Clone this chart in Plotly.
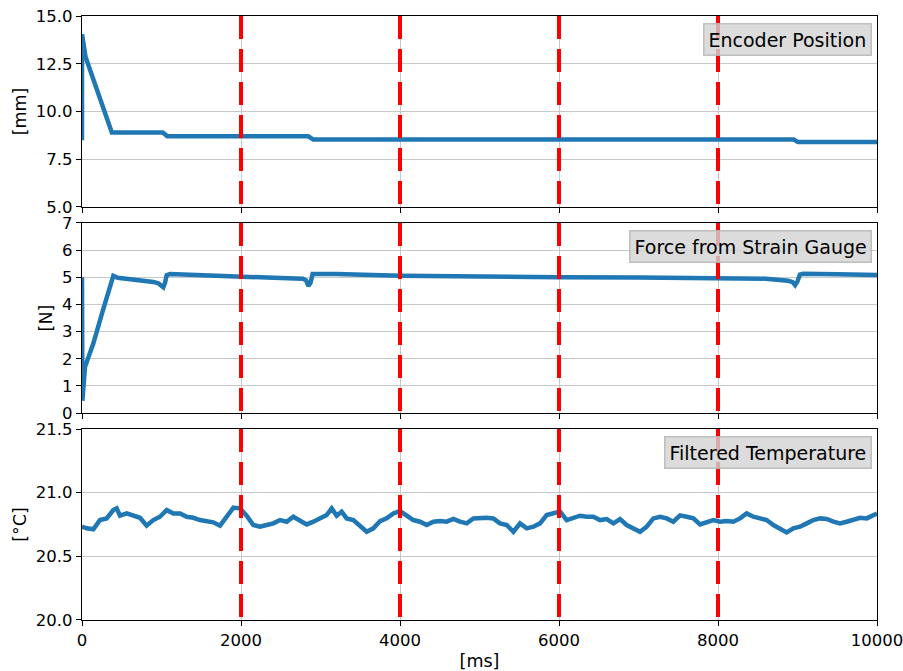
import plotly.graph_objects as go

# Encoder position [mm]
enc_t = [0, 0, 45, 375, 1015, 1073, 2845, 2910, 8955, 9005, 10000]
enc_mm = [8.5, 14.05, 12.85, 8.9, 8.9, 8.7, 8.7, 8.53, 8.53, 8.4, 8.4]

# Force from strain gauge [N]
force_t = [0, 5, 38, 142, 260, 394, 450, 646, 800, 897, 960, 1023, 1045, 1065, 1107,
           1500, 2000, 2500, 2780, 2820, 2847, 2875, 2900, 3200, 4000, 5000, 6000,
           7000, 8000, 8600, 8880, 8940, 8970, 9000, 9030, 9070, 9500, 10000]
force_n = [5.0, 0.45, 1.7, 2.56, 3.75, 5.05, 4.98, 4.92, 4.9, 4.83, 4.78, 4.63, 4.8, 5.08, 5.12,
           5.07, 5.0, 4.97, 4.95, 4.88, 4.68, 4.8, 5.12, 5.12, 5.06, 5.02, 5.0,
           4.99, 4.97, 4.95, 4.87, 4.82, 4.71, 4.85, 5.1, 5.13, 5.11, 5.08]

# Filtered temperature [°C]
temp_t = [0, 59, 143, 226, 310, 394, 436, 478, 562, 646, 730, 813, 897, 981, 1065,
          1149, 1233, 1317, 1400, 1484, 1568, 1652, 1736, 1820, 1904, 1987, 2071, 2155,
          2239, 2323, 2407, 2491, 2575, 2658, 2742, 2826, 2910, 2994, 3078, 3141, 3203,
          3266, 3329, 3413, 3497, 3581, 3665, 3749, 3832, 3916, 4000, 4084, 4168, 4252,
          4336, 4420, 4503, 4587, 4671, 4755, 4839, 4923, 5006, 5090, 5174, 5258, 5342,
          5426, 5510, 5594, 5678, 5761, 5845, 5929, 6013, 6097, 6181, 6264, 6348, 6432,
          6516, 6600, 6684, 6768, 6851, 6935, 7019, 7103, 7187, 7271, 7355, 7438, 7522,
          7606, 7690, 7774, 7858, 7942, 8025, 8109, 8193, 8277, 8361, 8445, 8529, 8612,
          8696, 8780, 8864, 8948, 9032, 9116, 9200, 9283, 9367, 9451, 9535, 9619, 9703,
          9787, 9871, 9954, 10000]
temp_c = [20.733, 20.72, 20.712, 20.785, 20.798, 20.864, 20.877, 20.819, 20.837, 20.824,
          20.803, 20.741, 20.785, 20.811, 20.864, 20.837, 20.837, 20.811, 20.803, 20.785,
          20.772, 20.767, 20.741, 20.811, 20.882, 20.877, 20.819, 20.746, 20.733, 20.746,
          20.759, 20.785, 20.772, 20.811, 20.785, 20.751, 20.772, 20.803, 20.824, 20.877,
          20.819, 20.851, 20.798, 20.785, 20.733, 20.693, 20.72, 20.777, 20.798, 20.837,
          20.856, 20.824, 20.785, 20.772, 20.746, 20.772, 20.777, 20.772, 20.793, 20.772,
          20.759, 20.798, 20.803, 20.803, 20.798, 20.759, 20.746, 20.693, 20.759, 20.72,
          20.733, 20.759, 20.824, 20.837, 20.851, 20.785, 20.798, 20.819, 20.811, 20.811,
          20.785, 20.793, 20.759, 20.793, 20.746, 20.72, 20.693, 20.733, 20.798, 20.811,
          20.798, 20.772, 20.822, 20.811, 20.798, 20.751, 20.767, 20.785, 20.772, 20.777,
          20.772, 20.798, 20.837, 20.811, 20.798, 20.785, 20.746, 20.72, 20.688, 20.72,
          20.733, 20.759, 20.785, 20.798, 20.793, 20.772, 20.759, 20.772, 20.785, 20.803,
          20.798, 20.824, 20.837]

marker_times = [2000, 4000, 6000, 8000]
x_ticks = [0, 2000, 4000, 6000, 8000, 10000]
x_tick_text = ["0", "2000", "4000", "6000", "8000", "10000"]

panels = [
    dict(x=enc_t, y=enc_mm, title="[mm]", label="Encoder Position",
         rng=[5, 15], ticks=[5.0, 7.5, 10.0, 12.5, 15.0], fmt=".1f", dom=[0.6838, 1.0]),
    dict(x=force_t, y=force_n, title="[N]", label="Force from Strain Gauge",
         rng=[0, 7], ticks=[0, 1, 2, 3, 4, 5, 6, 7], fmt="d", dom=[0.3427, 0.6573]),
    dict(x=temp_t, y=temp_c, title="[°C]", label="Filtered Temperature",
         rng=[20.0, 21.5], ticks=[20.0, 20.5, 21.0, 21.5], fmt=".1f", dom=[0.0, 0.3162]),
]

FONT = "DejaVu Sans"
BLUE = "#1f77b4"
TICK_FONT = dict(family=FONT, size=16.5, color="black")
TITLE_FONT = dict(family=FONT, size=17.5, color="black")
BOX_FONT = dict(family=FONT, size=19, color="black")

fig = go.Figure()
layout = {}
shapes = []
annotations = []

for i, p in enumerate(panels):
    n = i + 1
    xa = "x" if n == 1 else f"x{n}"
    ya = "y" if n == 1 else f"y{n}"
    fig.add_trace(go.Scatter(x=p["x"], y=p["y"], mode="lines",
                             line=dict(color=BLUE, width=4.5),
                             xaxis=xa, yaxis=ya, showlegend=False))
    xkey = "xaxis" if n == 1 else f"xaxis{n}"
    ykey = "yaxis" if n == 1 else f"yaxis{n}"
    layout[xkey] = dict(
        domain=[0, 1], anchor=ya, range=[0, 10000],
        tickvals=x_ticks, ticktext=x_tick_text, ticklabeloverflow="allow",
        showticklabels=(n == 3), ticks="outside", ticklen=5, tickwidth=1.2,
        tickcolor="black", showline=True, linecolor="black", linewidth=1.2,
        mirror=True, showgrid=True, gridcolor="#c8c8c8", gridwidth=1,
        zeroline=False, tickfont=TICK_FONT, automargin=False,
    )
    if n != 1:
        layout[xkey]["matches"] = "x"
    if n == 3:
        layout[xkey]["title"] = dict(text="[ms]", standoff=12, font=TITLE_FONT)
    layout[ykey] = dict(
        domain=p["dom"], anchor=xa, range=p["rng"], tickvals=p["ticks"],
        tickformat=p["fmt"], ticks="outside", ticklen=5, tickwidth=1.2,
        tickcolor="black", showline=True, linecolor="black", linewidth=1.2,
        mirror=True, showgrid=True, gridcolor="#c8c8c8", gridwidth=1,
        zeroline=False, tickfont=TICK_FONT, automargin=False,
        ticklabeloverflow="allow",
        title=dict(text=p["title"], standoff=4, font=TITLE_FONT),
    )
    for t in marker_times:
        shapes.append(dict(type="line", xref=xa, yref=f"{ya} domain",
                           x0=t, x1=t, y0=1, y1=0,
                           line=dict(color="red", width=4, dash="23px,10px")))
    annotations.append(dict(
        text=p["label"], xref=f"{xa} domain", yref=f"{ya} domain",
        x=1 - 5 / 795, y=1 - 7 / 191, xanchor="right", yanchor="top",
        showarrow=False, font=BOX_FONT,
        bgcolor="rgba(211,211,211,0.8)", bordercolor="rgba(185,185,185,0.9)",
        borderwidth=1.5, borderpad=4,
    ))

fig.update_layout(
    width=903, height=671,
    margin=dict(l=82, r=26, t=16, b=51, autoexpand=False),
    paper_bgcolor="white", plot_bgcolor="white",
    shapes=shapes, annotations=annotations,
    font=dict(family=FONT, size=16, color="black"),
    **layout,
)

fig.write_html("out.html")
